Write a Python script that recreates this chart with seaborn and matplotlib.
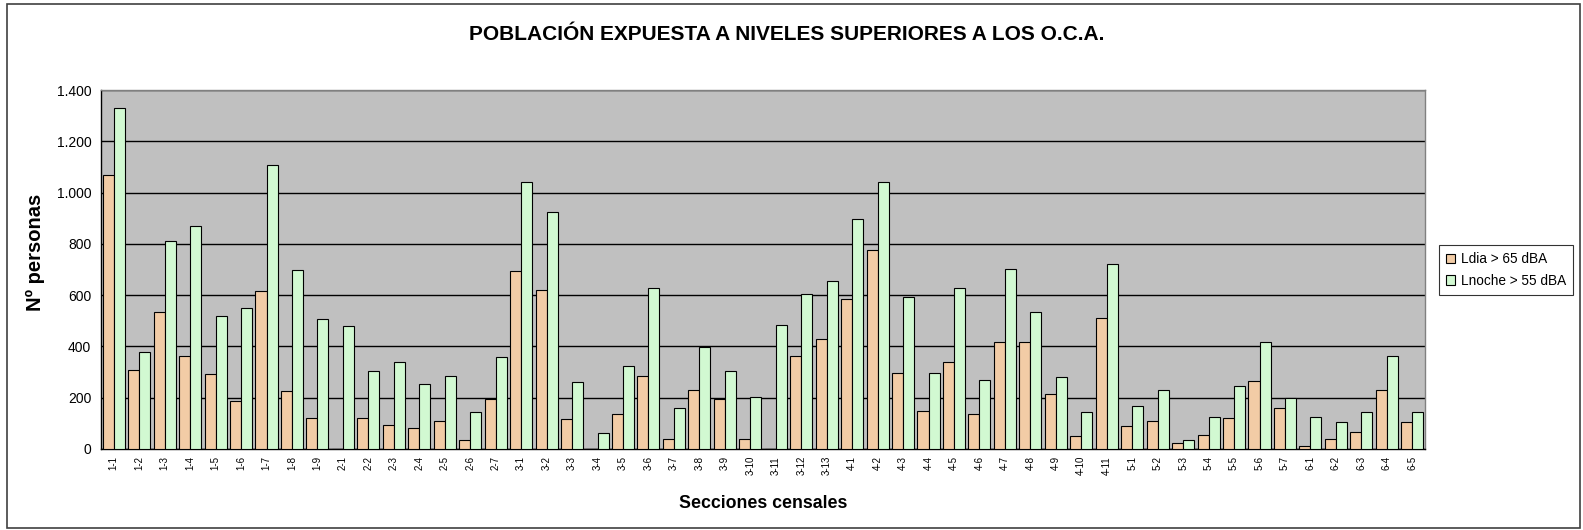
import matplotlib
matplotlib.use("Agg")
import matplotlib.pyplot as plt
import matplotlib.ticker as mticker
from matplotlib.patches import Rectangle
import seaborn as sns
import pandas as pd
import numpy as np

categories = ["1-1", "1-2", "1-3", "1-4", "1-5", "1-6", "1-7", "1-8", "1-9",
              "2-1", "2-2", "2-3", "2-4", "2-5", "2-6", "2-7",
              "3-1", "3-2", "3-3", "3-4", "3-5", "3-6", "3-7", "3-8", "3-9", "3-10", "3-11", "3-12", "3-13",
              "4-1", "4-2", "4-3", "4-4", "4-5", "4-6", "4-7", "4-8", "4-9", "4-10", "4-11",
              "5-1", "5-2", "5-3", "5-4", "5-5", "5-6", "5-7",
              "6-1", "6-2", "6-3", "6-4", "6-5"]

ldia = [1070, 310, 536, 364, 292, 187, 618, 225, 119,
        0, 119, 94, 82, 109, 34, 195,
        694, 619, 116, 0, 135, 284, 40, 229, 195, 40, 0, 361, 429,
        584, 777, 296, 149, 338, 135, 416, 416, 213, 51, 510,
        90, 109, 22, 55, 119, 265, 161,
        10, 40, 66, 229, 105]

lnoche = [1330, 377, 813, 871, 517, 551, 1109, 697, 506,
          479, 303, 338, 252, 284, 143, 357,
          1043, 923, 262, 62, 323, 626, 160, 399, 306, 201, 483, 603, 657,
          896, 1043, 592, 296, 626, 269, 701, 536, 281, 143, 721,
          166, 229, 34, 123, 244, 416, 197,
          123, 105, 145, 364, 145]

series_names = ["Ldia > 65 dBA", "Lnoche > 55 dBA"]
colors = ["#FFCC99", "#CCFFCC"]

title = "POBLACIÓN EXPUESTA A NIVELES SUPERIORES A LOS O.C.A."
ylabel = "Nº personas"
xlabel = "Secciones censales"

df = pd.DataFrame({
    "seccion": categories * 2,
    "serie": [series_names[0]] * len(categories) + [series_names[1]] * len(categories),
    "valor": ldia + lnoche,
})

sns.set_style("white")
plt.rcParams["font.family"] = ["Liberation Sans", "DejaVu Sans"]
plt.rcParams["text.color"] = "black"
plt.rcParams["axes.labelcolor"] = "black"
plt.rcParams["xtick.color"] = "black"
plt.rcParams["ytick.color"] = "black"

W, H = 1583, 530
fig = plt.figure(figsize=(W / 100, H / 100), dpi=100)
L, R, T, B = 101, 1425, 90, 449
ax = fig.add_axes([L / W, (H - B) / H, (R - L) / W, (B - T) / H])
ax.set_facecolor("#C0C0C0")

sns.barplot(data=df, x="seccion", y="valor", hue="serie", order=categories,
            hue_order=series_names, palette=colors, width=0.87, gap=0,
            edgecolor="black", linewidth=0.8, ax=ax, legend=True, zorder=3)

ax.set_xlim(-0.5, len(categories) - 0.5)
ax.set_ylim(0, 1400)
ax.yaxis.set_major_locator(mticker.MultipleLocator(200))
ax.yaxis.set_major_formatter(mticker.FuncFormatter(lambda v, p: f"{int(v):,}".replace(",", ".")))
ax.grid(axis="y", color="black", linewidth=1, zorder=1)
ax.set_axisbelow(True)

ax.set_xticks(np.arange(len(categories)))
ax.set_xticklabels(categories, rotation=90, fontsize=7)
ax.set_xticks(np.arange(len(categories) + 1) - 0.5, minor=True)
ax.tick_params(axis="x", which="major", length=0, pad=5)
ax.tick_params(axis="x", which="minor", length=4, width=0.8, color="black", direction="out")
ax.tick_params(axis="y", length=4, width=0.8, color="black", direction="out", labelsize=10, pad=3)

for s in ["left", "bottom"]:
    ax.spines[s].set_color("black")
    ax.spines[s].set_linewidth(1)
for s in ["top", "right"]:
    ax.spines[s].set_color("#808080")
    ax.spines[s].set_linewidth(1)

ax.set_xlabel(xlabel, fontsize=12.8, fontweight="bold", labelpad=14)
ax.set_ylabel(ylabel, fontsize=14.5, fontweight="bold")
ax.yaxis.set_label_coords((45 - L) / (R - L), (B - 252) / (B - T))

handles, labels = ax.get_legend_handles_labels()
leg = ax.legend(handles, labels, loc="center left",
                bbox_to_anchor=(1439 / W, (H - 270) / H), bbox_transform=fig.transFigure,
                fontsize=9.8, frameon=True, fancybox=False, edgecolor="black",
                handlelength=0.7, handleheight=0.7, handletextpad=0.4,
                borderpad=0.5, labelspacing=0.55, borderaxespad=0)
leg.get_frame().set_linewidth(0.8)

fig.text(787 / W, 1 - 35 / H, title, ha="center", va="center", fontsize=15, fontweight="bold")

fig.patches.append(Rectangle((7 / W, 1 - 528 / H), (1580 - 7) / W, (528 - 4) / H,
                             transform=fig.transFigure, fill=False, edgecolor="#404040",
                             linewidth=1.2))

fig.savefig("out.png", dpi=100)
